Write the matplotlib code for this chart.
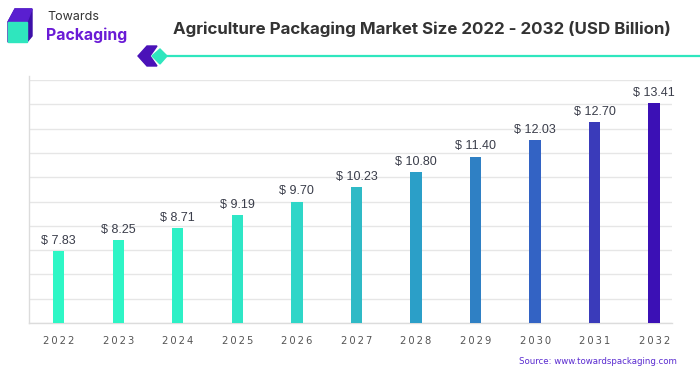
import numpy as np
import matplotlib
matplotlib.use("Agg")
import matplotlib.pyplot as plt
from matplotlib.patches import Polygon, Rectangle

years = ["2022", "2023", "2024", "2025", "2026", "2027", "2028", "2029", "2030", "2031", "2032"]
values = [7.83, 8.25, 8.71, 9.19, 9.70, 10.23, 10.80, 11.40, 12.03, 12.70, 13.41]
bar_colors = ["#2ef7c6", "#2ef5c6", "#2df0c6", "#2ee6c6", "#2fd6c8", "#2fbac6",
              "#2b9fc8", "#2f80c4", "#3363c4", "#3a3bba", "#3b10b5"]
title = "Agriculture Packaging Market Size 2022 - 2032 (USD Billion)"
source = "Source: www.towardspackaging.com"

W, H = 700, 375
fig = plt.figure(figsize=(W / 100, H / 100), dpi=100)


def fx(x):
    return x / W


def fy(y):
    return 1 - y / H


# plot area
ax = fig.add_axes([fx(29), fy(323), fx(672) - fx(29), fy(80) - fy(323)])
x = np.arange(len(years))
ax.bar(x, values, width=0.19, color=bar_colors, zorder=3)
ax.set_xlim(-0.5, 10.3)
ymin, ymax = 5.11, 14.29
ax.set_ylim(ymin, ymax)
ax.set_yticks(np.linspace(ymin, ymax, 11))
ax.grid(axis="y", color="#e6e6e6", lw=1, zorder=0)
ax.tick_params(left=False, bottom=False, labelleft=False, labelbottom=False)
for s in ["top", "right"]:
    ax.spines[s].set_visible(False)
for s in ["left", "bottom"]:
    ax.spines[s].set_color("#dcdcdc")
    ax.spines[s].set_linewidth(1)
ax.spines["left"].set_bounds(ymin, ymax + 0.15)

for xi, v, yr in zip(x, values, years):
    ax.annotate(f"$ {v:.2f}", (xi, v), xytext=(0, 3), textcoords="offset points",
                ha="center", va="bottom", fontsize=9, color="#3a3d4a",
                family="Liberation Sans")
    ax.annotate("\u2009".join(yr), (xi, ymin), xytext=(0, -9), textcoords="offset points",
                ha="center", va="top", fontsize=7.2, color="#555555",
                family="DejaVu Sans", annotation_clip=False)

# title
fig.text(fx(422), fy(29), title, ha="center", va="center", fontsize=12.2,
         fontweight="bold", color="#333333", family="Inter")

# header decoration: chevron, diamond and line
fig.add_artist(Polygon([(fx(147), fy(46)), (fx(157), fy(46)), (fx(150), fy(56)),
                        (fx(157), fy(66)), (fx(147), fy(66)), (fx(138), fy(56))],
                       closed=True, color="#4a12b8", transform=fig.transFigure))
fig.add_artist(Polygon([(fx(160), fy(49)), (fx(167), fy(56)), (fx(160), fy(64)),
                        (fx(152), fy(56))],
                       closed=True, color="#2fe6be", transform=fig.transFigure))
fig.add_artist(plt.Line2D([fx(165), fx(700)], [fy(56), fy(56)], color="#2fe6be",
                          lw=1.6, transform=fig.transFigure))

# logo
fig.add_artist(Polygon([(fx(15), fy(9)), (fx(32), fy(9)), (fx(32), fy(36)),
                        (fx(27), fy(42)), (fx(8), fy(42)), (fx(8), fy(22))],
                       closed=True, color="#3d0fa8", transform=fig.transFigure))
fig.add_artist(Polygon([(fx(8), fy(22)), (fx(15), fy(9)), (fx(32), fy(9)),
                        (fx(27), fy(22))],
                       closed=True, color="#5a1fd0", transform=fig.transFigure))
fig.add_artist(Rectangle((fx(8), fy(42)), fx(27) - fx(8), fy(22) - fy(42),
                         color="#2fe6be", transform=fig.transFigure))
fig.text(fx(47), fy(17), "Towards", ha="left", va="center", fontsize=9,
         color="#333333", family="Inter")
fig.text(fx(46), fy(35), "Packaging", ha="left", va="center", fontsize=11.4,
         fontweight="bold", color="#6a1bd6", family="Inter")

# source
fig.text(fx(677), fy(362), source, ha="right", va="center", fontsize=6.25,
         color="#5a2bd0", family="DejaVu Sans")

fig.savefig("out.png", dpi=100)
